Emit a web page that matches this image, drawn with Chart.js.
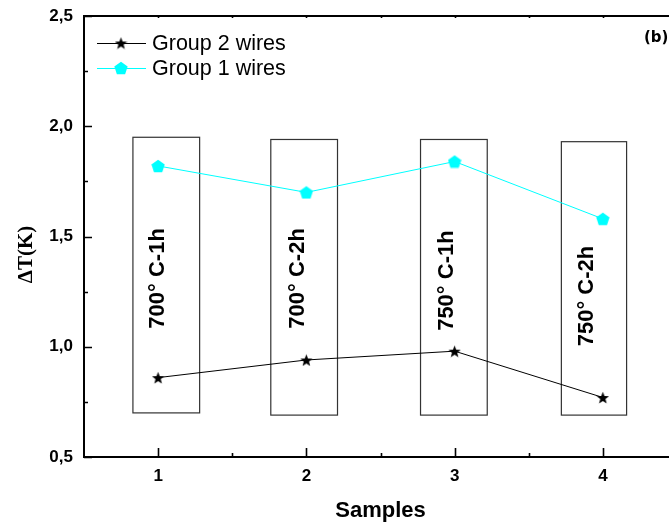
<!DOCTYPE html>
<html>
<head>
<meta charset="utf-8">
<script src="https://cdn.jsdelivr.net/npm/chart.js@4.4.1/dist/chart.umd.min.js"></script>
<style>
  html, body { margin: 0; padding: 0; background: #fff; overflow: hidden; }
  #wrap { width: 669px; height: 526px; overflow: hidden; position: relative; }
  canvas { display: block; }
</style>
</head>
<body>
<div id="wrap"><canvas id="c" width="700" height="526"></canvas></div>
<script>
// Measured temperature rise per sample
const samples = [1, 2, 3, 4];
const group2 = [0.86, 0.94, 0.98, 0.77];
const group1 = [1.82, 1.70, 1.84, 1.58];
const seriesNames = ['Group 2 wires', 'Group 1 wires'];
const xTickValues = [1, 2, 3, 4];
const yTickValues = [0.5, 1.0, 1.5, 2.0, 2.5];

// Annealing treatment of each sample, with its frame in axis units
const treatments = ['700° C-1h', '700° C-2h', '750° C-1h', '750° C-2h'];
const frameLeft = [0.83, 1.76, 2.77, 3.72];
const frameRight = [1.28, 2.21, 3.22, 4.16];
const frameTop = [1.95, 1.94, 1.94, 1.93];
const frameBottom = [0.70, 0.69, 0.69, 0.69];
const labelX = [1.00, 1.94, 2.95, 3.89];
const labelY = [1.31, 1.31, 1.30, 1.23];

const SANS = '"Liberation Sans", Arial, Helvetica, sans-serif';
const CYAN = '#00FFFF';

function starMarker(size, color) {
  const c = document.createElement('canvas');
  c.width = c.height = size;
  const g = c.getContext('2d');
  const r = size / 2, ri = r * 0.42, cy = r + r * 0.1;
  g.beginPath();
  for (let i = 0; i < 10; i++) {
    const a = -Math.PI / 2 + i * Math.PI / 5;
    const rr = i % 2 ? ri : r;
    g.lineTo(r + rr * Math.cos(a), cy + rr * Math.sin(a));
  }
  g.closePath();
  g.fillStyle = color;
  g.fill();
  return c;
}

function pentagonMarker(size, color) {
  const c = document.createElement('canvas');
  c.width = c.height = size;
  const g = c.getContext('2d');
  const r = size / 2, cy = r + r * 0.1;
  g.beginPath();
  for (let i = 0; i < 5; i++) {
    const a = -Math.PI / 2 + i * 2 * Math.PI / 5;
    g.lineTo(r + r * Math.cos(a), cy + r * Math.sin(a));
  }
  g.closePath();
  g.fillStyle = color;
  g.fill();
  return c;
}

const starImg = starMarker(13, '#000');
const pentImg = pentagonMarker(14, CYAN);

// Treatment frames with rotated labels, under the data lines
const framesPlugin = {
  id: 'frames',
  beforeDatasetsDraw(chart) {
    const { ctx, scales: { x, y } } = chart;
    ctx.save();
    for (let i = 0; i < treatments.length; i++) {
      const l = x.getPixelForValue(frameLeft[i]);
      const r = x.getPixelForValue(frameRight[i]);
      const t = y.getPixelForValue(frameTop[i]);
      const b = y.getPixelForValue(frameBottom[i]);
      ctx.fillStyle = '#fff';
      ctx.fillRect(l, t, r - l, b - t);
      ctx.strokeStyle = '#333';
      ctx.lineWidth = 1.2;
      ctx.strokeRect(l, t, r - l, b - t);
    }
    ctx.fillStyle = '#000';
    ctx.font = 'bold 22px ' + SANS;
    ctx.textAlign = 'center';
    ctx.textBaseline = 'middle';
    for (let i = 0; i < treatments.length; i++) {
      ctx.save();
      ctx.translate(x.getPixelForValue(labelX[i]), y.getPixelForValue(labelY[i]));
      ctx.rotate(-Math.PI / 2);
      ctx.fillText(treatments[i], 0, 0);
      ctx.restore();
    }
    ctx.restore();
  }
};

// Frame box, inward tick marks, legend, panel tag and y-axis title
const decorPlugin = {
  id: 'decor',
  afterDraw(chart) {
    const { ctx, chartArea: a, scales: { x, y } } = chart;
    ctx.save();
    ctx.strokeStyle = '#000';
    ctx.lineWidth = 2;
    ctx.beginPath();
    ctx.moveTo(a.left - 1, a.top);
    ctx.lineTo(a.right, a.top);
    ctx.lineTo(a.right, a.bottom);
    ctx.stroke();

    ctx.lineWidth = 1.6;
    ctx.beginPath();
    for (let v = 0.5; v <= 2.5001; v += 0.25) {
      const py = Math.round(y.getPixelForValue(v)) + 0.5;
      const major = Math.abs(v * 2 - Math.round(v * 2)) < 1e-6;
      const len = major ? 8 : 4;
      ctx.moveTo(a.left, py); ctx.lineTo(a.left + len, py);
      ctx.moveTo(a.right, py); ctx.lineTo(a.right - len, py);
    }
    for (let v = 1; v <= 4.0001; v += 0.5) {
      const px = Math.round(x.getPixelForValue(v)) + 0.5;
      const major = Math.abs(v - Math.round(v)) < 1e-6;
      ctx.moveTo(px, a.bottom); ctx.lineTo(px, a.bottom - (major ? 9 : 4));
      ctx.moveTo(px, a.top); ctx.lineTo(px, a.top + 2);
    }
    ctx.stroke();

    // legend
    const sets = chart.data.datasets;
    const rows = [a.top + 27, a.top + 52];
    ctx.font = '21.5px ' + SANS;
    ctx.textAlign = 'left';
    ctx.textBaseline = 'middle';
    sets.forEach((ds, i) => {
      const ly = rows[i];
      ctx.strokeStyle = ds.borderColor;
      ctx.lineWidth = 1;
      ctx.beginPath();
      ctx.moveTo(a.left + 13, ly + 0.5); ctx.lineTo(a.left + 62, ly + 0.5);
      ctx.stroke();
      const img = ds.pointStyle;
      ctx.drawImage(img, a.left + 37 - img.width / 2, ly - img.height / 2);
      ctx.fillStyle = '#000';
      ctx.fillText(ds.label, a.left + 68, ly + 1);
    });

    ctx.font = 'bold 15px "DejaVu Sans", sans-serif';
    ctx.fillText('(b)', 644, a.top + 22);

    ctx.save();
    ctx.translate(27, (a.top + a.bottom) / 2 + 18);
    ctx.rotate(-Math.PI / 2);
    ctx.textAlign = 'center';
    ctx.font = 'bold 21px "Liberation Serif", "Times New Roman", serif';
    ctx.fillText('ΔT(K)', 0, 0);
    ctx.restore();
    ctx.restore();
  }
};

new Chart(document.getElementById('c'), {
  type: 'line',
  data: {
    datasets: [
      {
        label: seriesNames[0],
        data: samples.map((s, i) => ({ x: s, y: group2[i] })),
        borderColor: '#000',
        borderWidth: 1,
        pointStyle: starImg,
        pointRadius: 6,
        pointHoverRadius: 6,
        tension: 0
      },
      {
        label: seriesNames[1],
        data: samples.map((s, i) => ({ x: s, y: group1[i] })),
        borderColor: CYAN,
        borderWidth: 1,
        pointStyle: pentImg,
        pointRadius: 6,
        pointHoverRadius: 6,
        tension: 0
      }
    ]
  },
  options: {
    responsive: false,
    animation: false,
    devicePixelRatio: 1,
    layout: { padding: { top: 16, right: 23, left: 0, bottom: 0 } },
    plugins: { legend: { display: false }, tooltip: { enabled: false } },
    scales: {
      x: {
        type: 'linear',
        min: 0.5,
        max: 4.5,
        afterBuildTicks: s => { s.ticks = xTickValues.map(v => ({ value: v })); },
        afterFit: s => { s.height = 69; s.paddingLeft = 0; s.paddingRight = 0; },
        grid: { display: false, drawTicks: false, tickLength: 0 },
        border: { display: true, color: '#000', width: 2 },
        ticks: {
          padding: 9,
          color: '#000',
          font: { family: SANS, size: 17, weight: 'bold' },
          callback: v => String(v)
        },
        title: {
          display: true,
          text: 'Samples',
          color: '#000',
          font: { family: SANS, size: 22, weight: 'bold' },
          padding: { top: 0, bottom: 2 }
        }
      },
      y: {
        type: 'linear',
        min: 0.5,
        max: 2.5,
        afterBuildTicks: s => { s.ticks = yTickValues.map(v => ({ value: v })); },
        afterFit: s => { s.width = 84; s.paddingTop = 0; s.paddingBottom = 0; },
        grid: { display: false, drawTicks: false, tickLength: 0 },
        border: { display: true, color: '#000', width: 2 },
        ticks: {
          padding: 11,
          color: '#000',
          font: { family: SANS, size: 17, weight: 'bold' },
          callback: v => v.toFixed(1).replace('.', ',')
        }
      }
    }
  },
  plugins: [framesPlugin, decorPlugin]
});
</script>
</body>
</html>
